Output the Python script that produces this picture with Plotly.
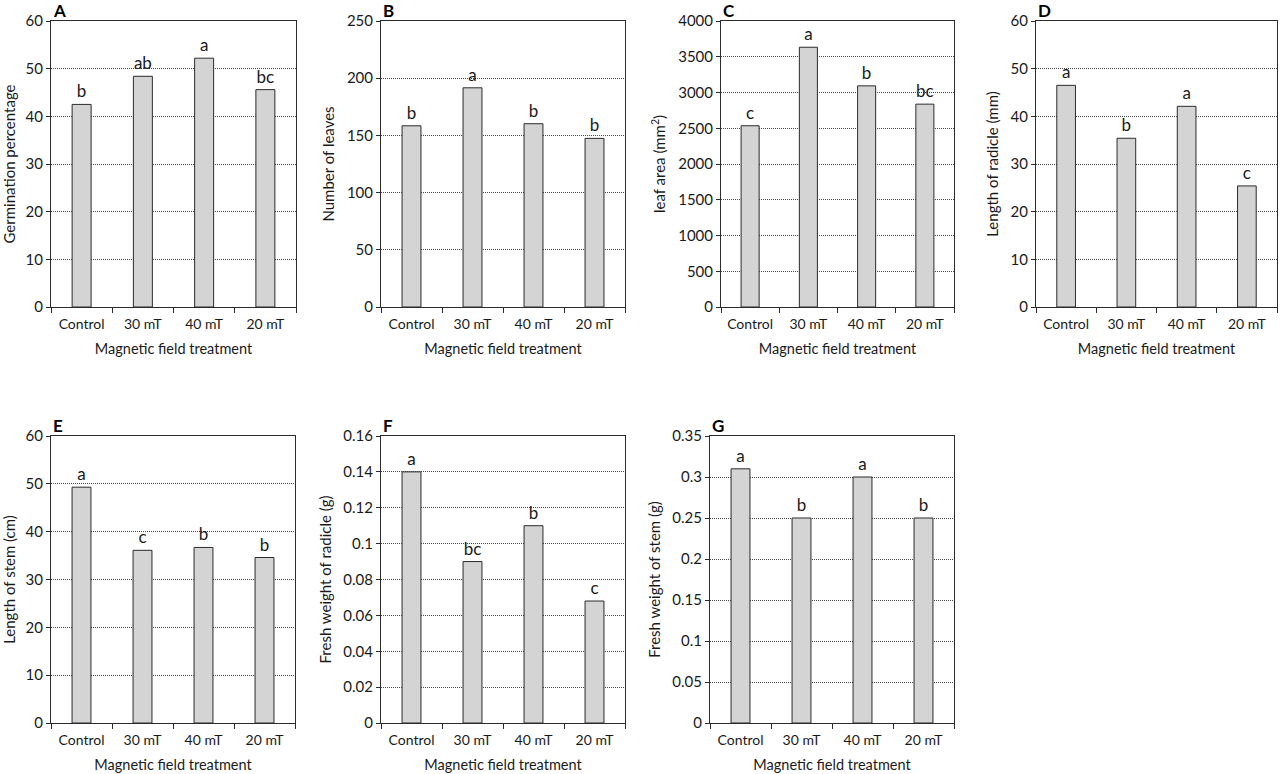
import plotly.graph_objects as go

# ==========================
# DATA
# ==========================
treatments = ["Control", "30 mT", "40 mT", "20 mT"]

germination = [42.5, 48.4, 52.2, 45.6]
germination_letters = ["b", "ab", "a", "bc"]

leaves = [158.4, 191.6, 160.2, 147.4]
leaves_letters = ["b", "a", "b", "b"]

leaf_area = [2535, 3633, 3093, 2837]
leaf_area_letters = ["c", "a", "b", "bc"]

radicle_length = [46.5, 35.4, 42.1, 25.4]
radicle_length_letters = ["a", "b", "a", "c"]

stem_length = [49.3, 36.1, 36.7, 34.6]
stem_length_letters = ["a", "c", "b", "b"]

radicle_weight = [0.14, 0.09, 0.11, 0.068]
radicle_weight_letters = ["a", "bc", "b", "c"]

stem_weight = [0.31, 0.25, 0.30, 0.25]
stem_weight_letters = ["a", "b", "a", "b"]

# ==========================
# PANEL SETUP (pixel boxes: left, right, top, bottom)
# ==========================
W, H = 1280, 774
FONT = "Lato"
TXT = "#1a1a1a"
LINE = "#2b2b2b"

panels = [
    ("A", germination, germination_letters, "Germination percentage", 60, 10, (51, 296, 21, 307)),
    ("B", leaves, leaves_letters, "Number of leaves", 250, 50, (381, 625, 21, 307)),
    ("C", leaf_area, leaf_area_letters, "leaf area (mm<sup>2</sup>)", 4000, 500, (721, 954, 21, 307)),
    ("D", radicle_length, radicle_length_letters, "Length of radicle (mm)", 60, 10, (1036, 1277, 21, 307)),
    ("E", stem_length, stem_length_letters, "Length of stem (cm)", 60, 10, (51, 295, 436, 723)),
    ("F", radicle_weight, radicle_weight_letters, "Fresh weight of radicle (g)", 0.16, 0.02, (381, 625, 436, 723)),
    ("G", stem_weight, stem_weight_letters, "Fresh weight of stem (g)", 0.35, 0.05, (710, 954, 436, 723)),
]

fig = go.Figure()
layout = {}

for i, (tag, vals, letters, ytitle, ymax, dtick, box) in enumerate(panels):
    n = "" if i == 0 else str(i + 1)
    xa, ya = "x" + n, "y" + n
    left, right, top, bottom = box

    fig.add_trace(go.Bar(
        x=treatments,
        y=vals,
        xaxis=xa,
        yaxis=ya,
        width=0.31,
        marker=dict(color="#d4d4d4", line=dict(color=LINE, width=1)),
        text=letters,
        textposition="outside",
        constraintext="none",
        cliponaxis=False,
        textfont=dict(family=FONT, size=17, color=TXT),
        showlegend=False,
        hoverinfo="x+y",
    ))

    layout["xaxis" + n] = dict(
        domain=[left / W, right / W],
        anchor=ya,
        type="category",
        tickson="boundaries",
        ticks="outside",
        ticklen=5,
        tickcolor=LINE,
        ticklabelstandoff=4,
        showline=True,
        mirror=True,
        linecolor=LINE,
        linewidth=1,
        showgrid=False,
        automargin=False,
        tickfont=dict(family=FONT, size=14, color=TXT),
        title=dict(text="Magnetic field treatment",
                   font=dict(family=FONT, size=14.5, color=TXT), standoff=13),
        fixedrange=True,
    )
    layout["yaxis" + n] = dict(
        domain=[1 - bottom / H, 1 - top / H],
        anchor=xa,
        range=[0, ymax],
        dtick=dtick,
        ticks="outside",
        ticklen=4,
        tickcolor=LINE,
        showline=True,
        mirror=True,
        linecolor=LINE,
        linewidth=1,
        showgrid=True,
        gridcolor="#4a4a4a",
        griddash="1px,1px",
        gridwidth=1,
        zeroline=False,
        automargin=False,
        tickfont=dict(family=FONT, size=15, color=TXT),
        title=dict(text=ytitle, font=dict(family=FONT, size=15, color=TXT), standoff=8),
        fixedrange=True,
    )

    fig.add_annotation(
        text=f"<b>{tag}</b>",
        xref=xa + " domain", yref=ya + " domain",
        x=0, y=1, xanchor="left", yanchor="bottom",
        yshift=-2, showarrow=False,
        font=dict(family=FONT, size=17, color="#000000"),
    )

fig.update_layout(
    **layout,
    width=W,
    height=H,
    margin=dict(l=0, r=0, t=0, b=0),
    paper_bgcolor="white",
    plot_bgcolor="white",
)

# drop the browser's default 8px body margin so the figure sits at 0,0
fig.write_html(
    "out.html",
    config={"displayModeBar": False},
    post_script="document.body.style.margin = '0';",
)
